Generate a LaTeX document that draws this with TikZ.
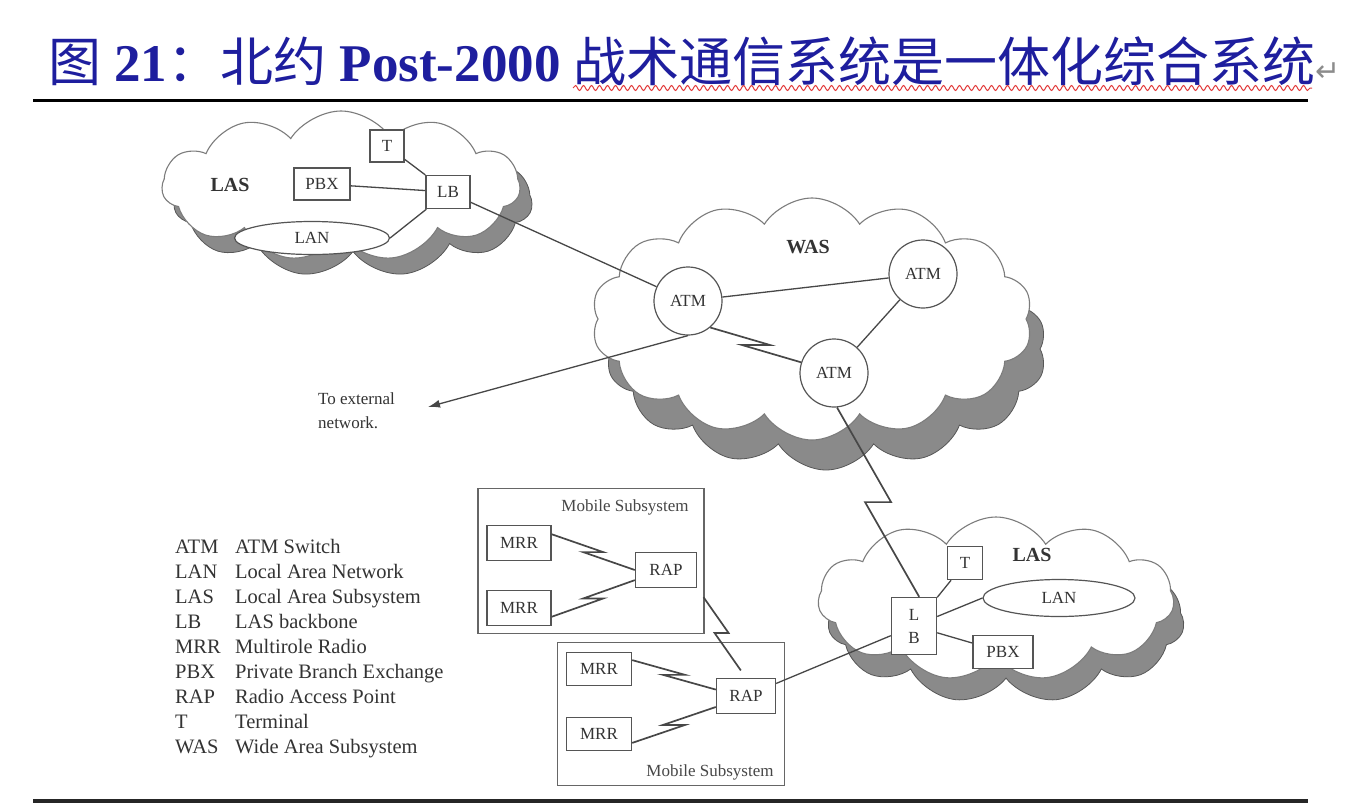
\documentclass[tikz,border=0pt]{standalone}
\usepackage{fontspec}
\setmainfont{Liberation Serif}
\newfontfamily\cjkfont{Noto Sans CJK SC}
\newfontfamily\dejavu{DejaVu Sans}
\usetikzlibrary{arrows.meta,positioning,calc,shapes.geometric,shapes.symbols,shadows,decorations.pathmorphing}
\newcommand{\fsz}[1]{\fontsize{#1}{#1}\selectfont}
\definecolor{netink}{HTML}{333333}
\definecolor{netline}{HTML}{474747}
\definecolor{netbox}{HTML}{555555}
\definecolor{cloudline}{HTML}{7C7C7C}
\definecolor{cloudshade}{HTML}{8A8A8A}
\definecolor{titleblue}{HTML}{1E1E9E}
\definecolor{wavered}{HTML}{E23B3B}
\tikzset{
  cloudArea/.style={cloud, cloud puffs=#1, cloud puff arc=115, cloud ignores aspect, draw=cloudline, fill=white, line width=1.1pt},
  cloudArea/.default=12,
  cloudShadow/.style 2 args={general shadow={fill=cloudshade, draw=cloudline!70!black, line width=0.8pt, shadow xshift=#1pt, shadow yshift=-#2pt}},
  unitBox/.style={draw=netbox, line width=1.4pt, fill=white, inner sep=0pt, minimum height=33pt, font=\fsz{17}, text=netink, align=center},
  atmCircle/.style={circle, draw=netbox, line width=1.2pt, fill=white, inner sep=0pt, minimum size=68pt, font=\fsz{17}, text=netink},
  lanOval/.style={ellipse, draw=netbox, line width=1.2pt, fill=white, inner sep=0pt, font=\fsz{17}, text=netink},
  areaLabel/.style={font=\fsz{20}\bfseries, text=netink},
  mobileBox/.style={draw=netbox!90, line width=1.3pt, inner sep=0pt},
  mobileLabel/.style={font=\fsz{17}, text=netink!90},
  legendText/.style={font=\fsz{20.5}, text=netink, anchor=base west, inner sep=0pt},
  linkLine/.style={draw=netline, line width=1.3pt},
  radioLink/.style={linkLine, line width=1.7pt, to path={-- ($(\tikztostart)!.5!(\tikztotarget)+(#1,0)$) -- ($(\tikztostart)!.5!(\tikztotarget)-(#1,0)$) -- (\tikztotarget)}},
  radioLink/.default=10,
  extArrow/.style={linkLine, -{Latex[length=12pt, width=8pt]}}
}
\begin{document}
\begin{tikzpicture}[x=1pt,y=-1pt]
  \useasboundingbox[fill=white] (0,0) rectangle (1348,806);
  \node[anchor=base west, inner sep=0pt, text=titleblue, font=\fsz{53}] (title) at (48,81)
    {{\cjkfont 图} {\bfseries 21}{\cjkfont ：北约} {\bfseries Post-2000} {\cjkfont 战术通信系统是一体化综合系统}{\dejavu\fsz{30}\color{black!45}↵}};
  \draw[wavered, line width=1pt, decorate, decoration={snake, amplitude=2.5pt, segment length=8pt}] (573,88) -- (1312,88);
  \draw[line width=3pt] (33,100) -- (1308,100);
  \draw[line width=3.5pt, black!85] (33,801) -- (1308,801);

  \node[cloudArea=11, cloudShadow={12}{16}, minimum width=358pt, minimum height=150pt] (lasA) at (341,186) {};
  \node[cloudArea=14, cloudShadow={14}{30}, minimum width=441pt, minimum height=242pt] (was) at (812,319) {};
  \node[cloudArea=11, cloudShadow={10}{22}, minimum width=356pt, minimum height=164pt] (lasB) at (996,599) {};

  \node[areaLabel] (lasAlbl) at (230,185) {LAS};
  \node[unitBox, minimum width=34pt, minimum height=32pt] (tA) at (387,146) {T};
  \node[unitBox, minimum width=56pt, minimum height=32pt] (pbxA) at (322,184) {PBX};
  \node[unitBox, minimum width=44pt] (lbA) at (448,192) {LB};
  \node[lanOval, minimum width=155pt, minimum height=33pt] (lanA) at (312,238) {LAN};

  \node[areaLabel] (waslbl) at (808,247) {WAS};
  \node[atmCircle] (atmA) at (688,301) {ATM};
  \node[atmCircle] (atmB) at (923,274) {ATM};
  \node[atmCircle] (atmC) at (834,373) {ATM};

  \node[areaLabel] (lasBlbl) at (1032,555) {LAS};
  \node[unitBox, minimum width=35pt] (tB) at (965,563) {T};
  \node[lanOval, minimum width=152pt, minimum height=37pt] (lanB) at (1059,598) {LAN};
  \node[unitBox, minimum width=45pt, minimum height=57pt, font=\fontsize{17}{23}\selectfont] (lbB) at (914,626) {L\\B};
  \node[unitBox, minimum width=60pt] (pbxB) at (1003,652) {PBX};

  \node[mobileBox, minimum width=226pt, minimum height=145pt] (mobA) at (591,561) {};
  \node[mobileLabel] (mobAlbl) at (625,507) {Mobile Subsystem};
  \node[unitBox, minimum width=64pt, minimum height=35pt] (mrrA) at (519,543) {MRR};
  \node[unitBox, minimum width=64pt, minimum height=35pt] (mrrB) at (519,608) {MRR};
  \node[unitBox, minimum width=61pt, minimum height=35pt] (rapA) at (666,570) {RAP};
  \node[mobileBox, fill=white, minimum width=227pt, minimum height=143pt] (mobB) at (671,714) {};
  \node[mobileLabel] (mobBlbl) at (710,772) {Mobile Subsystem};
  \node[unitBox, minimum width=65pt] (mrrC) at (599,669) {MRR};
  \node[unitBox, minimum width=65pt] (mrrD) at (599,734) {MRR};
  \node[unitBox, minimum width=59pt, minimum height=35pt] (rapB) at (746,696) {RAP};

  \node[anchor=west, align=left, inner sep=0pt, text=netink, font=\fontsize{17}{24}\selectfont] (extlbl) at (318,411) {To external\\network.};
  \coordinate (ext) at (428,407);

  \draw[linkLine] (tA) -- (lbA);
  \draw[linkLine] (pbxA) -- (lbA);
  \draw[linkLine] (lanA.east) -- (lbA);
  \draw[linkLine] (lbA) -- (atmA);
  \draw[linkLine] (atmA) -- (atmB);
  \draw[linkLine] (atmB) -- (atmC);
  \draw[radioLink=14] (atmA.-50) to (atmC.162);
  \draw[extArrow] (atmA.south) -- (ext);
  \draw[radioLink=13] (atmC.-85) to (lbB.80);
  \draw[linkLine] (lbB) -- (tB);
  \draw[linkLine] (lbB) -- (lanB.west);
  \draw[linkLine] (lbB) -- (pbxB);
  \draw[linkLine] (lbB) -- (rapB);
  \draw[radioLink] (mrrA.15) to (rapA.west);
  \draw[radioLink] (mrrB.-15) to (rapA.198);
  \draw[radioLink=7, shorten <=11pt, shorten >=9pt] (rapA.south east) to (rapB.north);
  \draw[radioLink=11] (mrrC.15) to (rapB.168);
  \draw[radioLink=11] (mrrD.-15) to (rapB.200);

  \foreach \ab/\desc [count=\i] in {ATM/ATM Switch, LAN/Local Area Network, LAS/Local Area Subsystem, LB/LAS backbone, MRR/Multirole Radio, PBX/Private Branch Exchange, RAP/Radio Access Point, T/Terminal, WAS/Wide Area Subsystem} {
    \node[legendText] (legAb\i) at (175,{528+25*\i}) {\ab};
    \node[legendText] (legTx\i) at (235,{528+25*\i}) {\desc};
  }
\end{tikzpicture}
\end{document}
